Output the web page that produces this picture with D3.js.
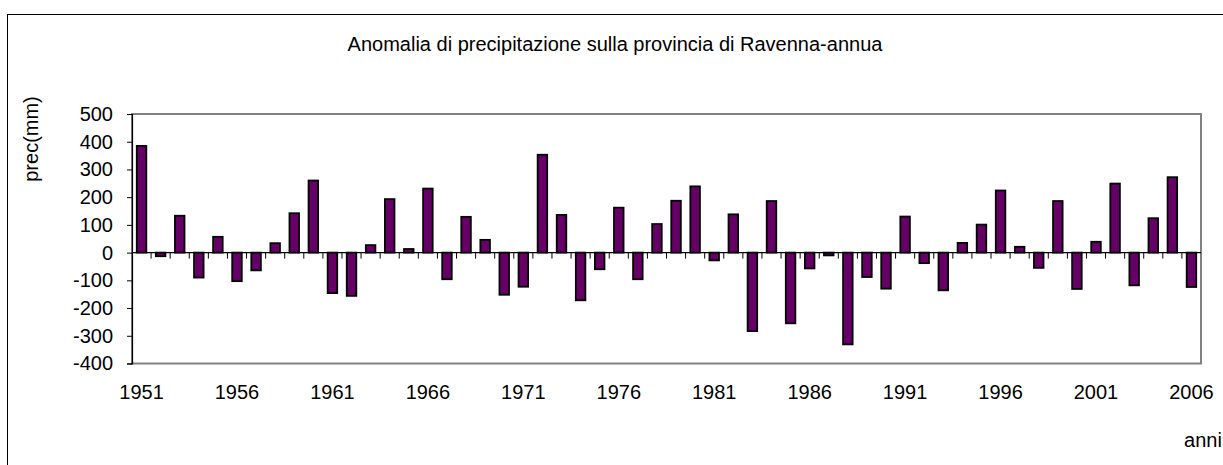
<!DOCTYPE html>
<html>
<head>
<meta charset="utf-8">
<script src="https://cdn.jsdelivr.net/npm/d3@7/dist/d3.min.js"></script>
<style>
  html, body { margin: 0; padding: 0; background: #fff; }
  svg { display: block; font-family: "Liberation Sans", Arial, sans-serif; }
</style>
</head>
<body>
<svg id="chart" width="1223" height="465"></svg>
<script>
// Annual precipitation anomaly, province of Ravenna (mm)
const years = d3.range(1951, 2007);
const anomalies = [
  385, -13, 133, -90, 57, -103, -64, 34, 142, 260,
  -146, -156, 27, 193, 13, 231, -96, 129, 46, -152,
  -123, 353, 136, -172, -60, 162, -96, 103, 187, 239,
  -28, 138, -283, 186, -255, -57, -10, -331, -88, -130,
  130, -38, -136, 35, 101, 224, 21, -55, 186, -131,
  39, 249, -118, 124, 272, -124
];
const yTicks = [-400, -300, -200, -100, 0, 100, 200, 300, 400, 500];
const labelYears = [1951, 1956, 1961, 1966, 1971, 1976, 1981, 1986, 1991, 1996, 2001, 2006];

const titleText = "Anomalia di precipitazione sulla provincia di Ravenna-annua";
const yTitle = "prec(mm)";
const xTitle = "anni";

const FONT = 20;
const svg = d3.select("#chart");
const plot = { left: 132, right: 1201, top: 114, bottom: 363.5 };

// outer chart frame
svg.append("rect")
  .attr("x", 7.5).attr("y", 14.5)
  .attr("width", 1240).attr("height", 480)
  .attr("fill", "#fff").attr("stroke", "#000").attr("stroke-width", 1);

const x = d3.scaleBand()
  .domain(years)
  .range([plot.left, plot.right])
  .paddingInner(0.5)
  .paddingOuter(0.25);

const y = d3.scaleLinear()
  .domain([-400, 500])
  .range([plot.bottom, plot.top]);

// plot area border
svg.append("rect")
  .attr("x", plot.left).attr("y", plot.top)
  .attr("width", plot.right - plot.left).attr("height", plot.bottom - plot.top)
  .attr("fill", "none").attr("stroke", "#808080").attr("stroke-width", 2);

// bars
svg.append("g").selectAll("rect")
  .data(years.map((yr, i) => ({ yr, v: anomalies[i] })))
  .join("rect")
  .attr("x", d => x(d.yr))
  .attr("width", x.bandwidth())
  .attr("y", d => y(Math.max(0, d.v)))
  .attr("height", d => Math.abs(y(d.v) - y(0)))
  .attr("fill", "#660066")
  .attr("stroke", "#000")
  .attr("stroke-width", 1.8);

// value axis (plain hyphen for negatives)
const yAxis = d3.axisLeft(y).tickValues(yTicks).tickSize(5).tickPadding(14)
  .tickFormat(d => String(d));
const gy = svg.append("g").attr("transform", `translate(${plot.left},0)`).call(yAxis);
gy.select(".domain").attr("stroke", "#000").attr("stroke-width", 1.2);
gy.selectAll(".tick line").attr("stroke", "#000");
gy.selectAll("text").attr("font-size", FONT).attr("fill", "#000")
  .attr("font-family", "Liberation Sans, Arial, sans-serif");

// category axis along zero, ticks between categories
const step = x.step();
const tickPos = d3.range(1, years.length).map(i => plot.left + i * step);
svg.append("line")
  .attr("x1", plot.left).attr("x2", plot.right)
  .attr("y1", y(0)).attr("y2", y(0))
  .attr("stroke", "#000").attr("stroke-width", 1.2);
svg.append("g").selectAll("line")
  .data(tickPos).join("line")
  .attr("x1", d => d).attr("x2", d => d)
  .attr("y1", y(0)).attr("y2", y(0) + 6)
  .attr("stroke", "#000").attr("stroke-width", 1);

// category labels below plot
svg.append("g").selectAll("text")
  .data(labelYears).join("text")
  .attr("x", d => x(d) + x.bandwidth() / 2)
  .attr("y", 399)
  .attr("text-anchor", "middle")
  .attr("font-size", FONT)
  .text(d => d);

// titles
svg.append("text")
  .attr("x", 615).attr("y", 51)
  .attr("text-anchor", "middle")
  .attr("font-size", FONT)
  .text(titleText);

svg.append("text")
  .attr("transform", "translate(38,139) rotate(-90)")
  .attr("text-anchor", "middle")
  .attr("font-size", FONT)
  .text(yTitle);

svg.append("text")
  .attr("x", 1203).attr("y", 447)
  .attr("text-anchor", "middle")
  .attr("font-size", FONT)
  .text(xTitle);
</script>
</body>
</html>
